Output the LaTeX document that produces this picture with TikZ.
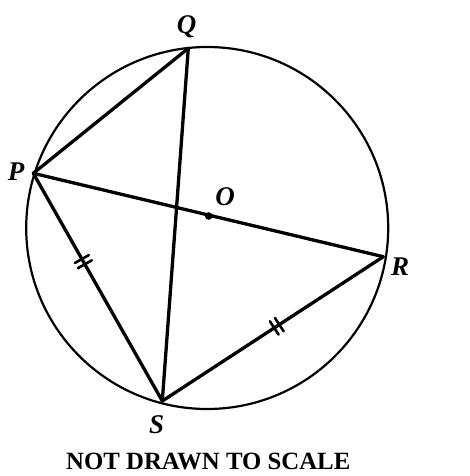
\documentclass[tikz,border=0pt]{standalone}
\usepackage{fontspec}
\setmainfont{Liberation Serif}
\usetikzlibrary{decorations.markings}
\tikzset{
  chord/.style={line width=3.3pt, line cap=round, line join=round},
  rim/.style={line width=2.2pt},
  lbl/.style={font=\fontsize{27}{27}\selectfont\bfseries\itshape, inner sep=0pt},
  notetext/.style={font=\fontsize{24.8}{25}\selectfont\bfseries, inner sep=0pt},
  ticks/.style={postaction={decorate, decoration={markings,
     mark=at position #1 with {\draw[line width=2.6pt] (-3pt,-8pt) -- (-3pt,8pt) (3pt,-8pt) -- (3pt,8pt);}}}}
}
\begin{document}
\begin{tikzpicture}[x=1pt,y=-1pt]
\useasboundingbox (0,0) rectangle (469,476);
\coordinate (C) at (207.2,228);
\draw[rim] (C) circle[radius=181];
\coordinate (P) at (33.3,173.3);
\coordinate (Q) at (188.3,48.3);
\coordinate (R) at (383.3,256.7);
\coordinate (S) at (162.3,401);
\coordinate (O) at (208.7,216);
\draw[chord] (P) -- (Q);
\draw[chord] (Q) -- (S);
\draw[chord] (P) -- (R);
\draw[chord, ticks=0.388] (P) -- (S);
\draw[chord, ticks=0.518] (S) -- (R);
\fill (O) circle[radius=3.8];
\node[lbl] (lP) at (16,171.5) {P};
\node[lbl] (lQ) at (186.7,27) {Q};
\node[lbl] (lO) at (225,197) {O};
\node[lbl] (lR) at (400,266.5) {R};
\node[lbl] (lS) at (156.7,425) {S};
\node[notetext] (note) at (208.3,461.5) {NOT DRAWN TO SCALE};
\end{tikzpicture}
\end{document}
